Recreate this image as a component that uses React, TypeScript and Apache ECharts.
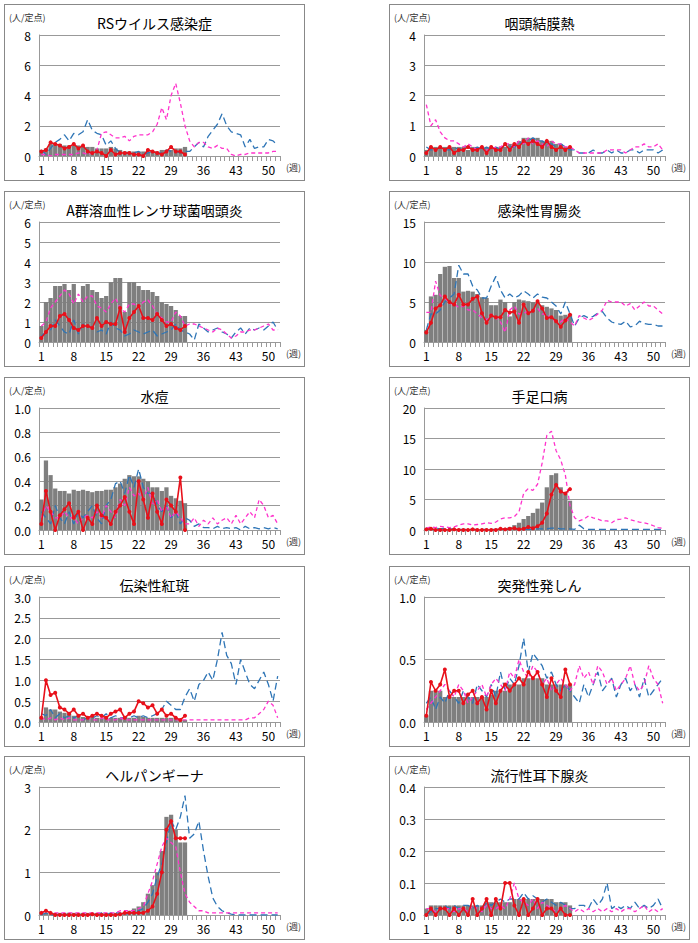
import React, { useEffect, useRef } from 'react'
import * as echarts from 'echarts'

const weeks = Array.from({ length: 52 }, (_, i) => String(i + 1))

const titles = ['RSウイルス感染症', '咽頭結膜熱', 'A群溶血性レンサ球菌咽頭炎', '感染性胃腸炎', '水痘', '手足口病', '伝染性紅斑', '突発性発しん', 'ヘルパンギーナ', '流行性耳下腺炎']
const yMax = [8, 4, 6, 15, 1.0, 20, 3.0, 1.0, 3, 0.4]
const yStep = [2, 1, 1, 5, 0.2, 5, 0.5, 0.5, 1, 0.1]
const yDec = [0, 0, 0, 0, 1, 0, 1, 1, 0, 1]

const bars = [
  [0.4,0.5,0.8,0.8,0.8,0.7,0.7,0.7,0.7,0.6,0.6,0.6,0.5,0.5,0.5,0.6,0.5,0.4,0.3,0.3,0.3,0.3,0.3,0.3,0.3,0.3,0.4,0.4,0.4,0.5,0.5,0.6],
  [0.2,0.3,0.3,0.3,0.3,0.3,0.3,0.3,0.3,0.2,0.3,0.3,0.3,0.3,0.3,0.3,0.3,0.3,0.4,0.4,0.5,0.6,0.6,0.6,0.6,0.5,0.5,0.5,0.4,0.4,0.3,0.3],
  [0.8,2.0,2.2,2.8,2.8,2.9,2.6,2.9,2.0,2.8,2.9,2.6,2.5,2.2,2.3,3.0,3.2,3.2,1.5,3.0,3.0,2.8,2.6,2.6,2.5,2.3,2.0,1.9,1.8,1.6,1.3,1.3],
  [1.5,5.7,5.9,8.5,9.4,9.5,8.0,8.0,6.3,6.4,6.3,6.0,5.6,5.5,4.6,4.6,5.3,5.0,3.2,5.0,5.3,5.2,5.1,5.0,4.9,4.6,4.4,4.2,4.0,3.3,3.4,3.5],
  [0.25,0.57,0.45,0.34,0.32,0.32,0.30,0.33,0.32,0.33,0.32,0.31,0.32,0.32,0.33,0.33,0.35,0.38,0.42,0.45,0.44,0.44,0.42,0.40,0.35,0.35,0.32,0.35,0.28,0.26,0.24,0.22],
  [0.2,0.2,0.2,0.2,0.1,0.1,0.1,0.1,0.1,0.1,0.1,0.1,0.1,0.1,0.1,0.1,0.2,0.3,0.5,0.8,1.2,1.8,2.3,2.8,3.5,4.5,7.0,9.0,9.3,7.0,6.0,4.8],
  [0.1,0.35,0.3,0.3,0.25,0.22,0.2,0.15,0.15,0.12,0.1,0.12,0.1,0.1,0.1,0.1,0.1,0.1,0.1,0.1,0.1,0.15,0.12,0.1,0.1,0.1,0.1,0.1,0.1,0.1,0.05,0.05],
  [0.05,0.25,0.25,0.25,0.2,0.2,0.2,0.2,0.2,0.2,0.2,0.2,0.2,0.2,0.22,0.25,0.25,0.25,0.3,0.3,0.3,0.35,0.35,0.35,0.35,0.35,0.3,0.3,0.3,0.3,0.3,0.3],
  [0.05,0.05,0.05,0.05,0.05,0.05,0.05,0.05,0.05,0.05,0.05,0.05,0.05,0.05,0.05,0.05,0.05,0.05,0.05,0.1,0.15,0.2,0.3,0.5,0.7,1.0,1.5,2.3,2.35,2.0,1.7,1.7],
  [0.02,0.03,0.03,0.03,0.03,0.03,0.03,0.03,0.03,0.03,0.03,0.03,0.03,0.04,0.04,0.04,0.04,0.04,0.04,0.05,0.05,0.05,0.05,0.05,0.05,0.05,0.05,0.05,0.04,0.04,0.04,0.03],
]

const reds = [
  [0.3,0.4,0.9,0.8,0.7,0.5,0.6,0.8,0.5,0.7,0.3,0.2,0.3,0.2,0.0,0.4,0.1,0.2,0.2,0.2,0.1,0.1,0.0,0.4,0.3,0.2,0.1,0.3,0.6,0.3,0.3,0.1],
  [0.1,0.3,0.2,0.3,0.2,0.3,0.1,0.2,0.2,0.3,0.2,0.2,0.3,0.1,0.3,0.2,0.2,0.4,0.2,0.4,0.3,0.5,0.4,0.5,0.4,0.3,0.5,0.3,0.2,0.3,0.2,0.3],
  [0.2,0.5,0.8,0.8,1.3,1.4,1.1,0.7,0.6,0.8,0.8,0.7,1.2,0.8,1.0,0.9,0.9,1.7,0.5,1.2,1.5,1.8,1.2,1.2,1.1,1.4,1.1,0.8,0.9,0.7,0.6,0.8],
  [1.2,2.4,4.2,4.6,5.7,5.0,4.7,5.9,4.7,4.7,5.4,5.7,3.6,2.4,3.3,3.1,3.1,4.0,3.7,3.8,2.4,4.7,3.6,3.9,5.1,4.2,3.0,3.1,2.6,1.9,2.7,3.4],
  [0.05,0.32,0.15,0.0,0.12,0.17,0.22,0.1,0.15,0.0,0.1,0.05,0.2,0.12,0.1,0.05,0.15,0.2,0.27,0.15,0.05,0.4,0.25,0.1,0.3,0.15,0.05,0.25,0.2,0.15,0.43,0.0],
  [0.1,0.2,0.0,0.0,0.0,0.0,0.1,0.0,0.0,0.0,0.1,0.0,0.0,0.0,0.0,0.0,0.2,0.1,0.2,0.3,0.1,0.2,0.5,0.3,0.6,1.2,2.7,5.8,7.4,6.3,6.0,6.7],
  [0.1,1.0,0.65,0.7,0.35,0.3,0.2,0.3,0.15,0.2,0.1,0.15,0.2,0.15,0.1,0.2,0.25,0.3,0.1,0.2,0.25,0.5,0.45,0.35,0.4,0.2,0.3,0.15,0.2,0.1,0.05,0.15],
  [0.05,0.32,0.25,0.3,0.42,0.2,0.25,0.25,0.15,0.22,0.25,0.15,0.2,0.1,0.25,0.15,0.25,0.3,0.25,0.3,0.35,0.3,0.4,0.35,0.4,0.3,0.2,0.35,0.25,0.2,0.42,0.3],
  [0.05,0.1,0.05,0,0,0,0,0,0,0,0,0.02,0,0,0,0,0,0.02,0.05,0.05,0.05,0.05,0.05,0.1,0.2,0.5,1.0,2.0,2.2,1.8,1.8,1.8],
  [0,0.02,0,0.02,0.02,0,0.02,0,0.02,0,0.05,0,0.02,0.05,0,0.05,0.02,0.1,0.1,0.03,0,0.05,0,0.02,0.05,0,0.02,0.02,0,0.02,0,0],
]

const blues = [
  [0.4,0.1,0.5,0.9,1.1,1.4,1.0,1.5,1.4,1.6,2.4,1.7,1.5,1.4,0.7,1.0,0.5,0.2,0.2,0.2,0.2,0.3,0.1,0.2,0.3,0.2,0.2,0.4,0.3,0.3,0.2,0.3,0.3,0.6,0.9,0.6,1.3,1.7,2.1,2.8,2.0,1.6,1.5,1.4,0.6,1.1,0.5,0.6,0.6,1.1,1.0,0.7],
  [0.3,0.2,0.2,0.3,0.2,0.2,0.3,0.2,0.3,0.3,0.2,0.3,0.2,0.3,0.2,0.3,0.2,0.4,0.3,0.3,0.4,0.5,0.5,0.6,0.5,0.5,0.4,0.4,0.3,0.4,0.3,0.2,0.2,0.1,0.1,0.1,0.2,0.1,0.1,0.2,0.1,0.2,0.1,0.1,0.2,0.2,0.1,0.2,0.2,0.2,0.1,0.2],
  [0.3,0.5,0.6,1.1,0.8,0.5,0.4,1.1,0.4,0.9,0.8,0.7,0.5,0.6,0.4,1.0,0.7,0.6,0.3,0.4,0.6,0.5,0.4,0.5,0.6,0.3,0.4,0.5,0.6,0.9,0.6,0.5,0.4,0.1,0.9,0.7,0.5,0.6,0.7,0.5,0.4,0.2,0.5,0.7,0.4,0.7,0.6,0.7,0.6,0.8,1.0,0.6],
  [1.5,3.5,3.5,4.0,5.0,5.5,6.0,9.6,8.5,8.5,7.0,6.5,5.5,5.5,7.0,8.2,6.5,5.5,6.0,5.5,5.8,6.4,6.0,5.5,6.0,5.6,5.5,5.0,4.5,3.5,5.0,3.5,2.0,3.0,3.3,3.0,3.2,3.6,3.8,3.0,2.5,2.3,2.2,2.6,1.9,2.0,2.6,2.3,2.2,2.2,2.0,2.0],
  [0.15,0.1,0.05,0.2,0.1,0.05,0.15,0.05,0.15,0.1,0.15,0.2,0.1,0.05,0.2,0.25,0.38,0.4,0.3,0.45,0.35,0.5,0.35,0.3,0.3,0.2,0.15,0.2,0.1,0.15,0.05,0.1,0.08,0.03,0.05,0.02,0.02,0.01,0.03,0.01,0.02,0.01,0.02,0.0,0.03,0.01,0.02,0.01,0.02,0.01,0.02,0.01],
  [0.1,0.2,0.3,0.2,0.3,0.2,0.2,0.1,0.1,0.1,0.1,0.1,0.1,0.1,0.1,0.1,0.1,0.1,0.1,0.1,0.1,0.1,0.1,0.1,0.2,0.2,0.2,0.3,0.3,0.2,0.2,0.2,0.1,0.8,0.2,0.1,0.1,0.1,0.1,0.1,0.1,0.1,0.1,0.1,0.1,0.1,0.1,0.1,0.1,0.1,0.1,0.1],
  [0.2,0.15,0.3,0.1,0.2,0.1,0.15,0.1,0.15,0.05,0.1,0.1,0.15,0.1,0.2,0.1,0.15,0.1,0.1,0.1,0.15,0.1,0.15,0.1,0.15,0.2,0.3,0.5,0.4,0.3,0.3,0.6,0.8,0.5,0.9,1.0,1.2,1.0,1.5,2.15,1.6,1.4,0.9,1.5,1.2,0.9,0.8,1.0,1.2,0.9,0.5,1.1],
  [0.15,0.2,0.1,0.2,0.15,0.25,0.2,0.15,0.25,0.2,0.15,0.3,0.25,0.2,0.3,0.2,0.4,0.25,0.35,0.3,0.45,0.67,0.4,0.55,0.5,0.45,0.35,0.4,0.3,0.25,0.3,0.25,0.2,0.15,0.3,0.2,0.3,0.4,0.25,0.3,0.35,0.2,0.3,0.35,0.25,0.3,0.2,0.35,0.2,0.25,0.3,0.35],
  [0,0.05,0,0,0,0,0,0,0,0,0,0,0,0.05,0,0.05,0.05,0.05,0,0.05,0.05,0.1,0.15,0.3,0.5,0.9,1.2,1.7,2.2,2.0,2.3,2.8,1.8,1.9,2.2,1.5,0.9,0.4,0.2,0.1,0.05,0.02,0,0,0,0,0,0,0,0,0,0],
  [0,0.01,0.02,0.02,0.03,0.02,0.03,0.02,0.03,0.03,0.02,0.03,0.02,0.04,0.03,0.04,0.05,0.04,0.05,0.05,0.05,0.07,0.05,0.06,0.05,0.04,0.05,0.04,0.03,0.04,0.03,0.02,0.02,0.03,0.03,0.02,0.05,0.03,0.05,0.1,0.02,0.03,0.02,0.03,0.02,0.04,0.02,0.03,0.02,0.03,0.05,0.02],
]

const magentas = [
  [0.1,0.1,0.0,0.1,0.1,0.1,0.1,0.1,0.2,0.2,0.1,0.2,0.4,1.5,1.6,1.4,1.2,1.2,1.3,1.0,1.3,1.4,1.4,1.4,1.6,2.1,3.2,2.4,4.0,4.8,3.5,2.0,1.0,0.6,0.9,0.9,0.6,0.5,0.7,0.5,0.5,0.1,0.0,0.1,0.1,0.2,0.2,0.2,0.2,0.2,0.3,0.3],
  [1.7,1.0,1.2,0.8,0.6,0.5,0.5,0.4,0.3,0.4,0.3,0.2,0.3,0.2,0.2,0.3,0.3,0.4,0.4,0.3,0.5,0.4,0.6,0.4,0.5,0.4,0.3,0.5,0.4,0.4,0.3,0.3,0.2,0.1,0.1,0.1,0.1,0.1,0.1,0.2,0.2,0.2,0.2,0.1,0.2,0.3,0.3,0.4,0.3,0.3,0.4,0.2],
  [0.8,1.0,1.7,2.0,2.3,2.6,2.4,1.9,2.4,2.0,2.3,2.3,1.8,1.7,1.5,1.9,2.2,1.7,1.5,1.9,1.9,1.7,2.0,2.1,1.8,1.4,1.2,1.0,1.0,1.5,1.3,0.8,0.9,0.9,0.8,0.7,0.6,0.5,0.7,0.6,0.4,0.2,0.3,0.5,0.5,0.6,0.6,0.7,0.8,0.9,0.6,0.6],
  [3.7,3.7,7.6,5.8,5.5,4.8,4.8,4.3,4.5,4.0,4.0,3.5,3.0,2.8,3.5,3.0,2.5,1.2,4.0,4.5,3.5,3.6,3.8,4.0,4.2,3.5,3.5,3.0,2.5,2.5,3.0,2.5,2.0,3.3,3.0,2.7,3.0,3.5,4.0,5.2,5.0,5.0,5.0,4.5,4.8,4.0,4.5,5.0,4.5,4.5,4.0,3.5],
  [0.1,0.2,0.15,0.1,0.1,0.15,0.1,0.1,0.05,0.1,0.12,0.1,0.15,0.1,0.2,0.15,0.1,0.25,0.2,0.35,0.28,0.3,0.25,0.35,0.2,0.25,0.15,0.2,0.1,0.15,0.1,0.05,0.05,0.1,0.03,0.08,0.05,0.1,0.05,0.08,0.1,0.05,0.12,0.05,0.1,0.15,0.1,0.25,0.2,0.1,0.12,0.05],
  [0.3,0.5,0.4,0.6,0.5,0.4,0.5,0.8,1.0,1.0,0.8,0.9,1.0,1.2,1.1,1.3,1.8,2.0,2.0,2.2,3.0,6.0,6.8,6.5,7.5,11.0,15.5,16.2,13.0,11.5,9.0,4.0,2.0,1.5,1.8,2.3,2.0,1.8,1.5,1.5,1.2,1.7,1.8,2.0,1.7,1.5,1.3,1.2,1.0,0.7,0.4,0.3],
  [0.1,0.05,0.1,0.05,0.1,0.05,0.1,0.05,0.05,0.05,0.1,0.05,0.05,0.1,0.05,0.05,0.05,0.1,0.05,0.05,0.05,0.05,0.05,0.05,0.05,0.05,0.05,0.05,0.05,0.05,0.05,0.05,0.05,0.05,0.05,0.05,0.05,0.05,0.05,0.05,0.05,0.05,0.05,0.05,0.05,0.1,0.1,0.2,0.3,0.5,0.4,0.1],
  [0.1,0.15,0.2,0.25,0.3,0.25,0.2,0.3,0.25,0.15,0.2,0.25,0.3,0.2,0.3,0.35,0.3,0.25,0.4,0.35,0.5,0.4,0.35,0.45,0.4,0.3,0.35,0.25,0.3,0.35,0.3,0.25,0.3,0.45,0.35,0.4,0.3,0.45,0.4,0.3,0.35,0.25,0.3,0.35,0.45,0.3,0.25,0.3,0.45,0.35,0.3,0.15],
  [0.05,0.1,0.05,0.05,0.05,0.05,0.05,0.05,0.05,0.05,0.05,0.05,0.05,0.05,0.05,0.05,0.05,0.1,0.1,0.1,0.1,0.15,0.2,0.5,0.8,1.2,1.6,1.8,1.7,1.6,1.0,0.5,0.3,0.2,0.1,0.1,0.05,0.05,0.05,0.05,0.05,0.05,0.05,0.05,0.05,0.05,0.05,0.05,0.05,0.05,0.05,0.05],
  [0.02,0.02,0.01,0.02,0.02,0.02,0.01,0.02,0.02,0.01,0.03,0.02,0.01,0.03,0.02,0.02,0.03,0.02,0.05,0.1,0.05,0.04,0.03,0.05,0.02,0.04,0.03,0.02,0.01,0.02,0.03,0.02,0.01,0.02,0.01,0.02,0.01,0.02,0.01,0.02,0.01,0.02,0.01,0.02,0.02,0.01,0.02,0.03,0.01,0.02,0.01,0.02],
]

const boxTops = [4, 191, 377, 566, 756]
const boxHeights = [177, 176, 178, 181, 184]
const FONT = '"Noto Sans CJK JP", sans-serif'

const Panel = ({ i }: { i: number }) => {
  const ref = useRef<HTMLDivElement>(null)

  useEffect(() => {
    if (!ref.current) return
    const chart = echarts.init(ref.current, undefined, { renderer: 'svg' })
    chart.setOption({
      animation: false,
      textStyle: { fontFamily: FONT },
      title: {
        text: titles[i],
        left: 'center',
        top: 6,
        textStyle: { fontSize: 14, fontWeight: 'normal', color: '#000', fontFamily: FONT },
      },
      graphic: [
        { type: 'text', left: 4, top: 8, style: { text: '(人/定点)', fontSize: 9, fill: '#333', fontFamily: FONT } },
        { type: 'text', right: 3, bottom: 8, style: { text: '(週)', fontSize: 9, fill: '#333', fontFamily: FONT } },
      ],
      grid: { left: 34, right: 24, top: 30, bottom: 24 },
      xAxis: {
        type: 'category',
        data: weeks,
        axisLine: { lineStyle: { color: '#999' } },
        axisTick: { show: true, interval: 0, lineStyle: { color: '#999' } },
        axisLabel: { interval: 6, color: '#000', fontSize: 12, margin: 7 },
      },
      yAxis: {
        type: 'value',
        min: 0,
        max: yMax[i],
        interval: yStep[i],
        axisLine: { show: true, lineStyle: { color: '#999' } },
        splitLine: { lineStyle: { color: '#999' } },
        axisLabel: { color: '#000', fontSize: 12, formatter: (v: number) => v.toFixed(yDec[i]) },
      },
      series: [
        { type: 'bar', data: bars[i], barCategoryGap: '8%', itemStyle: { color: '#7f7f7f' } },
        { type: 'line', data: blues[i], symbol: 'none', lineStyle: { color: '#2e75b6', width: 1.3, type: [7, 4] } },
        { type: 'line', data: magentas[i], symbol: 'none', lineStyle: { color: '#ff33cc', width: 1.3, type: [4, 3] } },
        { type: 'line', data: reds[i], symbol: 'circle', symbolSize: 4, showAllSymbol: true, itemStyle: { color: '#e8101a' }, lineStyle: { color: '#e8101a', width: 1.6 } },
      ],
    })
    return () => chart.dispose()
  }, [i])

  const col = i % 2
  const row = Math.floor(i / 2)
  return (
    <div style={{ position: 'absolute', left: col === 0 ? 4 : 389, top: boxTops[row], width: 301, height: boxHeights[row], border: '1px solid #888', boxSizing: 'border-box', background: '#fff' }}>
      <div ref={ref} style={{ width: '100%', height: '100%' }} />
    </div>
  )
}

export default function App() {
  return (
    <div style={{ position: 'absolute', left: 0, top: 0, width: 698, height: 943, background: '#fff' }}>
      {titles.map((_, i) => <Panel key={i} i={i} />)}
    </div>
  )
}
